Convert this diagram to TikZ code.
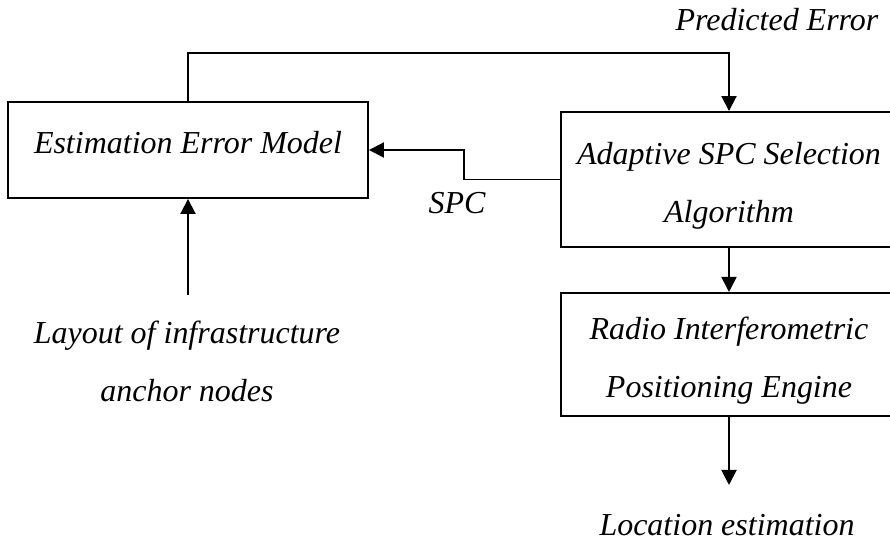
\documentclass[tikz,border=0pt]{standalone}
\usepackage{fontspec}
\setmainfont{Liberation Serif}
\usetikzlibrary{arrows.meta,positioning,calc}
\tikzset{
  block/.style      = {draw, line width=1.1pt, minimum width=6.72cm, inner sep=2pt, align=center},
  sig/.style        = {-{Triangle[length=3mm,width=3mm]}, line width=1.1pt},
  wire/.style       = {line width=1.1pt},
  every node/.style = {font=\itshape\fontsize{18.2}{33}\selectfont},
  lbl/.style        = {inner sep=1pt, align=center},
}

\begin{document}
\begin{tikzpicture}
  \useasboundingbox (0,0) rectangle (17.8,10.82);
  \clip (0,0) rectangle (17.8,10.82);
  \node[block, minimum width=7.2cm, minimum height=1.92cm, text depth=0.32cm] (errmodel) at (3.76,7.82) {Estimation Error Model};
  \node[block, minimum height=2.7cm, text height=1.85cm] (select) at (14.58,7.23) {Adaptive SPC Selection\\Algorithm};
  \node[block, minimum height=2.46cm, text height=1.85cm, below=0.88cm of select] (engine) {Radio Interferometric\\Positioning Engine};
  \node[lbl] (predlbl) at (15.54,10.42) {Predicted Error};
  \node[lbl] (spclbl) at (9.14,6.76) {SPC};
  \node[lbl] (layout) at (3.74,3.6) {Layout of infrastructure\\anchor nodes};
  \node[lbl] (locest) at (14.54,0.32) {Location estimation};
  \coordinate (layin) at (3.76,4.92);
  \coordinate (locout) at (14.58,1.12);
  \draw[sig] (errmodel.north) -- ++(0,0.96) -| (select.north);
  \draw[sig] (select.west) -- ++(-1.92,0) |- (errmodel.east);
  \draw[sig] (layin) -- (errmodel.south);
  \draw[sig] (select.south) -- (engine.north);
  \draw[sig] (engine.south) -- (locout);
\end{tikzpicture}
\end{document}
